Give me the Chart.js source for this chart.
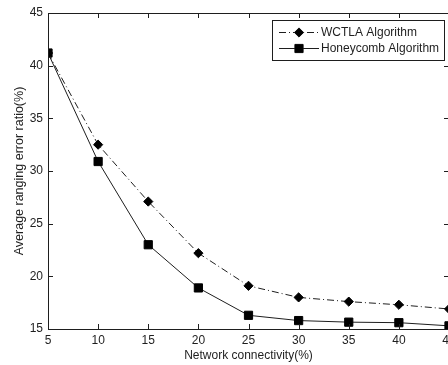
<!DOCTYPE html>
<html>
<head>
<meta charset="utf-8">
<script src="https://cdn.jsdelivr.net/npm/chart.js@4"></script>
<style>
  html, body { margin: 0; padding: 0; background: #fff; overflow: hidden; }
  canvas { display: block; }
</style>
</head>
<body>
<canvas id="rangingChart" width="460" height="365"></canvas>
<script>
// values
const connectivity = [5, 10, 15, 20, 25, 30, 35, 40, 45];
const wctlaError = [41.2, 32.5, 27.1, 22.2, 19.1, 18.0, 17.6, 17.3, 16.9];
const honeycombError = [41.2, 30.9, 23.0, 18.9, 16.3, 15.8, 15.65, 15.6, 15.3];
const seriesNames = ['WCTLA Algorithm', 'Honeycomb Algorithm'];
const xTitle = 'Network connectivity(%)';
const yTitle = 'Average ranging error ratio(%)';

const ink = '#1e1e1e';
const fontFamily = '"Liberation Sans", Arial, sans-serif';

// box round the plot with inward ticks, like the matlab figure
const frameAndTicks = {
    id: 'frameAndTicks',
    afterDraw(chart) {
        const ctx = chart.ctx;
        const area = chart.chartArea;
        const xs = chart.scales.x;
        const ys = chart.scales.y;
        ctx.save();
        ctx.strokeStyle = ink;
        ctx.lineWidth = 1;
        ctx.beginPath();
        ctx.rect(Math.round(area.left) + 0.5, Math.round(area.top) + 0.5,
                 Math.round(area.right - area.left), Math.round(area.bottom - area.top));
        xs.ticks.forEach(t => {
            const px = Math.round(xs.getPixelForValue(t.value)) + 0.5;
            ctx.moveTo(px, area.bottom);
            ctx.lineTo(px, area.bottom - 5);
            ctx.moveTo(px, area.top);
            ctx.lineTo(px, area.top + 5);
        });
        ys.ticks.forEach(t => {
            const py = Math.round(ys.getPixelForValue(t.value)) + 0.5;
            ctx.moveTo(area.left, py);
            ctx.lineTo(area.left + 5, py);
            ctx.moveTo(area.right, py);
            ctx.lineTo(area.right - 5, py);
        });
        ctx.stroke();
        ctx.restore();
    }
};

// legend box with line sample and marker in the middle
const boxLegend = {
    id: 'boxLegend',
    afterDraw(chart) {
        const ctx = chart.ctx;
        const left = 272.5, top = 20.5, width = 172, height = 40;
        ctx.save();
        ctx.fillStyle = '#fff';
        ctx.fillRect(left, top, width, height);
        ctx.strokeStyle = ink;
        ctx.lineWidth = 1;
        ctx.strokeRect(left, top, width, height);
        chart.data.datasets.forEach((ds, i) => {
            const y = 32 + i * 16;
            ctx.beginPath();
            ctx.setLineDash(ds.borderDash || []);
            ctx.strokeStyle = ds.borderColor;
            ctx.moveTo(279, y + 0.5);
            ctx.lineTo(319, y + 0.5);
            ctx.stroke();
            ctx.setLineDash([]);
            Chart.helpers.drawPoint(ctx, {
                pointStyle: ds.pointStyle,
                radius: ds.pointRadius,
                borderWidth: 1
            }, 299, y + 0.5);
            ctx.fillStyle = '#000';
            ctx.fill();
            ctx.fillStyle = ink;
            ctx.font = '12px ' + fontFamily;
            ctx.textAlign = 'left';
            ctx.textBaseline = 'middle';
            ctx.fillText(ds.label, 321, y + 1);
        });
        ctx.restore();
    }
};

const ctx = document.getElementById('rangingChart').getContext('2d');

new Chart(ctx, {
    type: 'line',
    data: {
        labels: connectivity,
        datasets: [
            {
                label: seriesNames[0],
                data: connectivity.map((x, i) => ({ x, y: wctlaError[i] })),
                borderColor: ink,
                borderWidth: 1,
                borderDash: [7, 3, 1, 3],
                pointStyle: 'rectRot',
                pointRadius: 4.6,
                pointBackgroundColor: '#000',
                pointBorderColor: '#000',
                pointBorderWidth: 1,
                fill: false,
                tension: 0
            },
            {
                label: seriesNames[1],
                data: connectivity.map((x, i) => ({ x, y: honeycombError[i] })),
                borderColor: ink,
                borderWidth: 1,
                pointStyle: 'rect',
                pointRadius: 5.8,
                pointBackgroundColor: '#000',
                pointBorderColor: '#000',
                pointBorderWidth: 1,
                fill: false,
                tension: 0
            }
        ]
    },
    options: {
        responsive: false,
        animation: false,
        events: [],
        layout: { padding: { top: 13, right: 11, left: 0, bottom: 0 } },
        plugins: {
            legend: { display: false },
            tooltip: { enabled: false }
        },
        scales: {
            x: {
                type: 'linear',
                min: 5,
                max: 45,
                ticks: {
                    stepSize: 5,
                    color: ink,
                    padding: 4,
                    font: { family: fontFamily, size: 12 }
                },
                grid: { display: false, drawTicks: false },
                border: { display: false },
                title: {
                    display: true,
                    text: xTitle,
                    color: ink,
                    padding: { top: 0, bottom: 2 },
                    font: { family: fontFamily, size: 12 }
                },
                afterFit(scale) { scale.height = 36; }
            },
            y: {
                min: 15,
                max: 45,
                ticks: {
                    stepSize: 5,
                    color: ink,
                    padding: 5,
                    font: { family: fontFamily, size: 12 }
                },
                grid: { display: false, drawTicks: false },
                border: { display: false },
                title: {
                    display: true,
                    text: yTitle,
                    color: ink,
                    padding: { top: 12, bottom: 0 },
                    font: { family: fontFamily, size: 12.5 }
                },
                afterFit(scale) { scale.width = 48; }
            }
        }
    },
    plugins: [frameAndTicks, boxLegend]
});
</script>
</body>
</html>
